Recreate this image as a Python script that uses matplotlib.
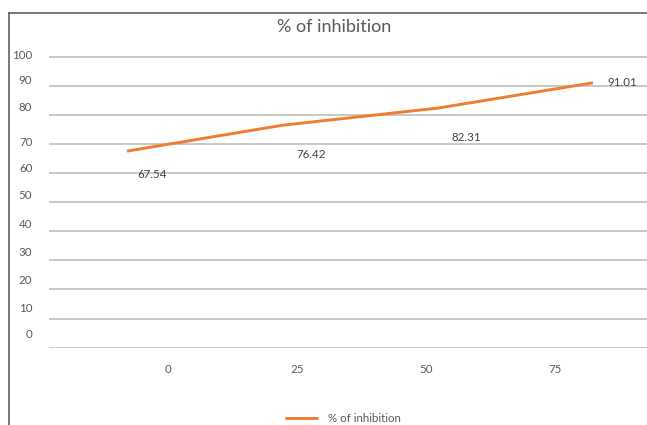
import matplotlib.pyplot as plt
from matplotlib.lines import Line2D

# data
categories = ["0", "25", "50", "75"]
inhibition = [67.54, 76.42, 82.31, 91.01]
y_ticks = [0, 10, 20, 30, 40, 50, 60, 70, 80, 90, 100]

# layout quirks (label spots do not sit on the grid)
ytick_label_pos = [5.0, 13.9, 23.5, 33.0, 42.8, 52.6, 61.9, 70.8, 82.7, 92.3, 100.8]
xtick_label_pos = [0.264, 1.095, 1.925, 2.756]
label_offsets = [(18, -17), (21, -21), (21, -21), (21, 0)]

ORANGE = "#ED7D31"
GREY = "#595959"

plt.rcParams["font.family"] = ["Lato", "DejaVu Sans"]

fig = plt.figure(figsize=(6.47, 4.25), dpi=100)
ax = fig.add_axes([0.0757, 0.1819, 0.9243, 0.6903])

x = list(range(len(inhibition)))
line, = ax.plot(x, inhibition, color=ORANGE, lw=2.1, solid_capstyle="butt",
                label="% of inhibition")

for xi, v, off in zip(x, inhibition, label_offsets):
    ax.annotate(f"{v:.2f}", (xi, v), xytext=off, textcoords="offset points",
                ha="center", va="center", fontsize=8.3, color="#404040")

ax.set_xlim(-0.502, 3.348)
ax.set_ylim(0, 100)

for t in y_ticks:
    ax.axhline(t, color="#c4c4c4", lw=1.3, zorder=0)

ax.set_yticks(ytick_label_pos, [str(t) for t in y_ticks])
ax.set_xticks(xtick_label_pos, categories)
ax.tick_params(axis="y", length=0, pad=12, labelsize=8.3, labelcolor=GREY)
ax.tick_params(axis="x", length=0, pad=12, labelsize=8.3, labelcolor=GREY)
for s in ax.spines.values():
    s.set_visible(False)

fig.text(334 / 647, 1 - 27 / 425, "% of inhibition", ha="center", va="center",
         fontsize=13, color=GREY)

fig.legend(handles=[line], loc="center", bbox_to_anchor=(343 / 647, 1 - 419 / 425),
           frameon=False, fontsize=8.3, handlelength=2.8, handletextpad=0.9,
           labelcolor=GREY)

# chart border visible at top and left of the crop
fig.add_artist(Line2D([9 / 647, 1], [1 - 13 / 425] * 2, color="#606060", lw=1.2))
fig.add_artist(Line2D([9 / 647] * 2, [0, 1 - 13 / 425], color="#606060", lw=1.2))

fig.savefig("out.png", dpi=100)
